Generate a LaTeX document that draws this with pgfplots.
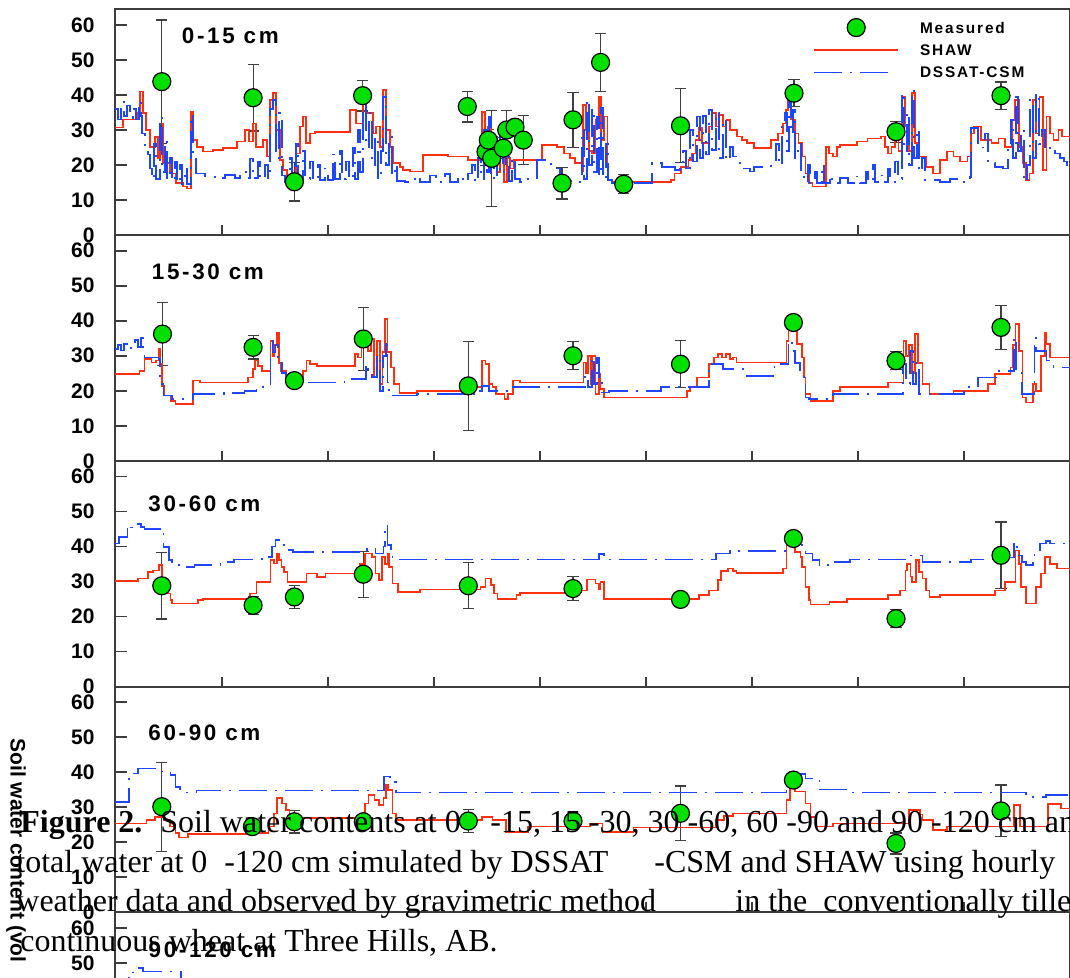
\documentclass[border=0pt]{standalone}
\usepackage{fontspec}
\setmainfont{Liberation Sans}
\newfontfamily\serif{Liberation Serif}
\newfontfamily\wide[LetterSpace=12]{Liberation Sans}
\usepackage{pgfplots}
\pgfplotsset{compat=1.18}
\definecolor{shawred}{HTML}{FF3010}
\definecolor{dssatblue}{HTML}{1E46FF}
\definecolor{mgreen}{HTML}{00E000}
\definecolor{axgray}{HTML}{3C3C3C}
\definecolor{ebgray}{HTML}{404040}
\newcommand\tickfont{\fontsize{10.5}{12}\selectfont\bfseries}
\newcommand\panfont{\wide\fontsize{11.2}{13}\selectfont\bfseries}
\newcommand\legfont{\wide\fontsize{7.7}{9}\selectfont\bfseries}
\newcommand\labfont{\fontsize{10.5}{12}\selectfont\bfseries}
\newcommand\capfont{\serif\fontsize{16}{19}\selectfont}

\pgfplotsset{
  panel/.style={scale only axis, width=477.5pt, height=112.9pt,
    xmin=115, xmax=1070, ymin=0, ymax=64.5,
    xtick={222,328,434,540,646,752,858,964}, xticklabels={},
    ytick={0,10,...,60},
    tick align=inside, xtick pos=left, ytick pos=left,
    xtick style={/pgfplots/major tick length=5pt},
    ytick style={/pgfplots/major tick length=6pt},
    axis line style={line width=0.9pt, axgray},
    tick style={line width=0.9pt, axgray},
    yticklabel style={font=\tickfont, inner sep=0pt, anchor=east, xshift=-10pt},
    /pgf/number format/assume math mode=true,
    anchor=south west},
  shaw/.style={shawred, line width=0.8pt, const plot, no marks},
  dssat/.style={dssatblue, line width=0.8pt, const plot, no marks,
    dash pattern=on 14pt off 4pt on 1pt off 4pt},
  meas/.style={only marks, mark=*, mark size=4.5pt,
    mark options={fill=mgreen, draw=black, line width=0.6pt, solid},
    error bars/y dir=both, error bars/y explicit,
    error bars/error bar style={line width=0.6pt, ebgray, solid},
    error bars/error mark options={rotate=90, mark size=2.8pt, line width=0.6pt, ebgray}},
  markleg/.style={legend image code/.code={\draw[##1] plot coordinates {(21pt,0pt)};}},
  lineleg/.style={legend image code/.code={\draw[##1] (0pt,0pt) -- (42pt,0pt);}},
  dashleg/.style={legend image code/.code={\draw[##1] (0pt,0pt) -- (40pt,0pt);}},
}

\begin{document}
\begin{tikzpicture}
\useasboundingbox (0,0) rectangle (535pt,489pt);
\clip (0,0) rectangle (535pt,489pt);

% ---------- 0-15 cm
\begin{axis}[panel, at={(57.5pt,371.5pt)},
  legend style={draw=none, fill=none, font=\legfont, inner sep=0pt,
    at={(axis cs:813,62.1)}, anchor=north west, cells={anchor=west},
    nodes={inner sep=0pt, minimum height=9.6pt, text height=5.5pt, text depth=0pt},
    row sep=1.6pt, /tikz/every odd column/.append style={column sep=10.5pt}}]
\addlegendimage{only marks, mark=*, mark size=4.5pt,
  mark options={fill=mgreen, draw=black, line width=0.6pt}, markleg}
\addlegendentry{Measured}
\addlegendimage{shawred, line width=0.8pt, lineleg}
\addlegendentry{SHAW}
\addlegendimage{dssatblue, line width=0.8pt, dash pattern=on 14pt off 4pt on 1pt off 4pt, dashleg}
\addlegendentry{DSSAT-CSM}
\addplot[meas] coordinates {
 (161.8,43.8)+-(0,17.6) (253.1,39.2)+-(0,9.5) (294.4,15.2)+-(0,5.5) (362.6,39.8)+-(0,4.4)
 (467.3,36.7)+-(0,4.4) (486,23.8)+-(0,4) (488.3,27.1)+-(0,3) (491.7,21.9)+-(0,13.7)
 (503.3,24.8)+-(0,3) (506.7,30.0)+-(0,5.5) (515,30.8)+-(0,2) (523.3,27.1)+-(0,7)
 (562,14.8)+-(0,4.5) (573,32.9)+-(0,7.8) (600.6,49.3)+-(0,8.3) (623.7,14.5)+-(0,2.7)
 (680.5,31.2)+-(0,10.6) (794,40.5)+-(0,3.9) (896,29.5)+-(0,3) (1001,39.8)+-(0,3.9)};
\addplot[shaw] coordinates {
 (115,30.7)(123,33.0)(137,34.8)(140,41.0)(143,34.8)(146,30.0)(150,25.2)(155,28.0)(158,22.0)
 (160,31.9)(163,20.5)(170,17.6)(176,14.8)(183,13.8)(187,13.3)(191,35.2)(193,27.1)(197,25.2)
 (203,23.8)(213,24.3)(223,24.8)(237,26.7)(245,30.0)(249,26.7)(253,31.9)(256,25.2)(263,27.1)
 (267,22.4)(270,38.6)(273,40.5)(276,30.0)(280,21.4)(283,18.6)(287,15.7)(290,16.7)(296,23.3)
 (300,31.0)(303,33.8)(306,26.2)(310,29.0)(315,29.5)(350,35.7)(356,31.9)(363,38.6)(366,34.8)
 (373,29.0)(376,31.0)(380,25.2)(383,41.4)(386,30.0)(390,25.2)(393,20.5)(400,19.5)(403,18.6)
 (410,18.1)(423,22.9)(448,22.4)(468,21.4)(480,23.0)(482,35.2)(485,22.0)(488,31.0)(491,20.0)
 (494,28.0)(497,18.0)(500,25.0)(504,15.2)(507,22.0)(510,19.0)(514,21.4)(542,25.7)(557,25.2)
 (564,23.3)(570,22.0)(575,20.5)(581.7,18.1)(583,37.1)(586,30.0)(589,24.0)(592,23.3)(595.4,32.9)
 (599,39.5)(601,27.1)(604,33.8)(607.5,15.7)(612.6,15.2)(671,15.7)(674.6,17.6)(681,19.5)
 (688.4,21.4)(692,23.3)(695.3,27.1)(699,30.5)(702.2,26.2)(709,31.0)(712,34.8)(716,31.0)
 (719.4,34.3)(723,31.0)(726.3,32.9)(730,30.0)(737,28.1)(741.8,27.1)(747,26.2)(753.8,24.8)
 (771,27.1)(778,29.0)(783,31.9)(786,35.7)(788,39.5)(791,33.0)(795,29.0)(798.6,26.2)(802,22.4)
 (805.5,17.6)(809,14.8)(812.4,13.8)(826,25.2)(829,23.3)(833,22.4)(837,25.2)(840,25.7)(857,26.7)
 (867.5,27.6)(881.2,28.1)(884.7,25.2)(888,23.3)(891.5,25.2)(895,30.0)(898.5,24.0)(902,39.5)
 (905,31.0)(908.8,24.0)(912,40.5)(915,26.2)(919,22.4)(926,19.5)(933,17.6)(940,21.4)(946.7,23.8)
 (953.5,22.4)(960,21.0)(967.3,22.4)(971,29.0)(974.2,31.0)(981,27.1)(991.4,26.2)(998.3,27.6)
 (1005,25.2)(1012,32.9)(1015,38.6)(1019,25.2)(1022.4,20.5)(1026,15.7)(1029.3,17.6)(1032.7,38.6)
 (1036,29.0)(1039.5,39.5)(1043,18.6)(1046.5,33.8)(1050,29.0)(1053.4,27.1)(1058.6,30.0)
 (1062,28.1)(1070,28.1)};
\addplot[dssat] coordinates {
 (115,36)(118,33)(121,38)(124,34)(127,37)(130,33.5)(133,36)(136,33)(139,38)(141,34)(142,29)
 (145,25)(148,23)(150,19)(152,16)(154,26)(156,16)(160,33.8)(162,18)(165,27)(167,16)(170,22)
 (172,15.5)(175,21)(177,15)(180,20)(182,14.5)(185,19)(187,14.5)(191,34.3)(193,22)(196,17.6)
 (205,16.7)(215,16.2)(225,17.1)(235,16.2)(240,18.1)(246,16.2)(250,21.9)(253,16.2)(258,21)
 (260,16.2)(265,20)(268,16.2)(270,36)(273,38.6)(276,22)(279,34.8)(282,17)(285,15.2)(290,22)
 (292,15.2)(296,26)(298,16)(303,24)(305,16)(310,21)(313,15.7)(318,20)(320,15.7)(325,19)
 (328,15.7)(333,23)(335,16)(340,24)(342,16)(346,21)(349,16)(353,25)(355,16)(358,30)(360,18)
 (363,38.6)(366,25)(369,34.8)(372,20)(375,28)(378,16)(381,24)(383,39.5)(386,20)(389,28)
 (392,17)(395,20)(397,15.5)(405,15.2)(415,16.7)(420,15.2)(430,17)(436,15.2)(445,17.5)
 (450,15.2)(458,16.7)(463,15.2)(468,17.6)(472,20)(475,15.2)(478,22)(481,16)(484,30)(487,18)
 (489,33.8)(491,16)(494,28)(497,17)(500,31)(503,18)(506,26)(509,15.5)(512,22)(515,16)
 (520,15.2)(527,16)(537,21.4)(551,19)(560,15.5)(578,15.2)(582,30)(584,16)(587,38.6)(589,20)
 (592,36)(594,18)(597,33.8)(599,17)(601,36.2)(603,16)(606,26)(608,15.7)(612,14.8)(652,20.5)
 (662,19.5)(675,18.6)(680,20)(683,24)(686,19)(690,30)(693,21)(697,33.8)(700,22)(703,34)
 (706,23)(709,35.7)(712,24.3)(716,35)(719,22)(723,33)(726,21.4)(730,25.2)(733,22.4)(740,20.5)
 (744,19)(750,18.1)(754,19.5)(771,21.4)(776,26)(779,20)(782,31)(785,34.8)(787,24)(789,38.6)
 (791,29)(793,35.7)(795,22)(798,26)(801,17.6)(804,15.2)(808,20)(810,14.8)(815,18)(817,14.8)
 (822,20)(824,14.8)(830,17)(832,14.8)(840,16.2)(848,14.8)(855,16.7)(860,14.8)(866,18)
 (868,15.2)(873,20)(875,15.2)(880,17)(883,15.2)(888,19)(890,15.2)(895,21)(898,16)(902,40.5)
 (904,24)(907,35)(909,20)(912,41.4)(914,22)(917,30)(919,18)(922,22)(925,15.7)(940,15.2)
 (950,16)(960,15.2)(970,16.5)(971,30.5)(978,25)(985,29)(988,20.5)(995,19.5)(1003,19)
 (1008,26)(1011,33)(1013,22)(1016,40.5)(1018,24)(1021,30)(1024,15.2)(1027,20)(1030,38.6)
 (1033,22)(1036,40.5)(1039,26)(1042,30)(1045,24.3)(1050,25.2)(1055,23.3)(1060,22)(1064,21)
 (1067,20)(1070,20)};
\node[font=\panfont, anchor=west, inner sep=0pt] at (axis cs:181.5,56.8) {0-15 cm};
\end{axis}

% ---------- 15-30 cm
\begin{axis}[panel, at={(57.5pt,258.6pt)}]
\addplot[meas] coordinates {
 (162.5,36.2)+-(0,9) (253.1,32.4)+-(0,3.3) (294.4,22.9)+-(0,1) (363.3,34.8)+-(0,9)
 (468.3,21.4)+-(0,12.7) (573,30)+-(0,4) (680.5,27.6)+-(0,6.7) (793.4,39.5)+-(0,1)
 (896,28.6)+-(0,2.6) (1001,38.1)+-(0,6.2)};
\addplot[shaw] coordinates {
 (115,24.8)(139.5,25.7)(144.6,29.0)(151.5,28.1)(156,28.6)(158.4,31.9)(160,27.6)(161.8,21.4)
 (164.6,18.6)(170.5,17.1)(175.6,16.2)(192.8,22.9)(199.7,22.4)(247.9,23.8)(253.1,26.2)
 (254.8,28.6)(258,27.1)(261.7,25.7)(270.3,34.3)(272.5,30)(274,33)(277.2,36.7)(279,28)
 (281,25.7)(285.8,23.8)(291,22.4)(303,25.7)(306.5,28.6)(310,27.6)(316.8,27.1)(354.7,30.5)
 (358,29.5)(361.6,32.4)(364.5,35.2)(368,31.4)(371,34.8)(374,24)(377,34.3)(380,22)(382.5,31)
 (385,40.5)(387.4,31.0)(390.8,26.7)(394,21.9)(399.5,19.3)(416.7,20.0)(468.3,21.0)(482.1,28.6)
 (485.5,27.6)(489,21.9)(492.4,21)(495.9,19)(504.5,17.6)(508,19)(513.1,22.9)(520,22.4)
 (583.4,28.1)(586,25)(588,30.0)(590.5,22)(592,30)(595.4,19)(598.9,24.8)(600.6,20.5)
 (604,18.1)(686.7,20.0)(690,21)(697,23.8)(709,27.6)(714.2,29.5)(717.7,30.5)(722,29.5)
 (726,30.5)(730,29)(733,29.5)(736.6,28.1)(786.5,34.3)(788.3,40.0)(791.7,37.1)(797,33.3)
 (802,29.5)(803.8,23.8)(805.5,19)(810.6,17.1)(833,20)(840,21)(888.1,22.4)(903.6,34.3)
 (906,30)(909,33)(912,25)(915,36.2)(918,28)(922.6,21.9)(929.5,19)(953.5,20)(988,21.9)
 (994.9,24.8)(1010.4,26.7)(1013,33)(1015.5,39)(1019,31.4)(1022.4,18.1)(1025.9,16.7)
 (1032.7,21.9)(1036,20)(1041,30)(1044.8,36.7)(1046.5,33.3)(1050,29.5)(1070,29.5)};
\addplot[dssat] coordinates {
 (115,31.9)(118,33)(121,31.5)(124,33.3)(128,32)(131,33.3)(135,34.5)(138,32.5)(141,35.2)
 (143,31)(144.6,29.5)(158.4,29.0)(160,21.9)(163.6,18.6)(172.2,17.6)(192.8,19.0)(223.8,19.3)
 (244.5,20.0)(256.5,21.0)(270.3,34.3)(273,31)(275.5,33)(278,28.5)(282,25)(285.8,22.4)
 (344.4,23.3)(366,27.6)(368,25)(372,24)(377,30)(380,20)(383,30)(385.7,34.3)(387.5,22.4)
 (389,18.6)(416.7,19.0)(475,20.0)(482,21.4)(489,20.0)(509.6,21.0)(585,24.3)(588,21)
 (592,29.5)(594,22)(597,29.5)(599,24)(602,19.5)(609,20.0)(660.9,21.0)(709,27.6)(722.8,26.2)
 (743.5,24.3)(774.5,27.6)(788.3,34.3)(791.7,31.4)(795,28)(800,24)(805.5,18.1)(809,17.6)
 (833,19.0)(903,27.6)(906,22)(910,31.4)(913,22)(916,28)(919,19)(963.9,21.0)(977.7,23.8)
 (998.3,25.7)(1014,35.2)(1016,25.7)(1022,19)(1032,19)(1034.5,35.2)(1036,31.4)(1046.5,28.6)
 (1053.4,26.7)(1070,26.7)};
\node[font=\panfont, anchor=west, inner sep=0pt] at (axis cs:151.5,54.1) {15-30 cm};
\end{axis}

% ---------- 30-60 cm
\begin{axis}[panel, at={(57.5pt,145.7pt)}]
\addplot[meas] coordinates {
 (161.8,28.8)+-(0,9.5) (253.1,23.2)+-(0,2.5) (294.4,25.6)+-(0,3.2) (363.3,32.1)+-(0,6.6)
 (468.3,28.8)+-(0,6.6) (573,28)+-(0,3.5) (680.5,24.9)+-(0,0.5) (793.4,42.3)+-(0,1)
 (896,19.4)+-(0,2.6) (1001,37.5)+-(0,9.5)};
\addplot[shaw] coordinates {
 (115,30.2)(137.7,30.9)(148,32.8)(153,33.2)(159,34.7)(161.8,29.0)(163.6,30.4)(167,26.6)
 (170.5,24.7)(172.2,23.7)(198,24.7)(203.2,25.1)(249.7,26.6)(256.5,29.9)(270.3,36.1)(274,35.2)
 (277.2,38.0)(279,36.1)(281.5,34.2)(284,32.8)(287.5,29.9)(306.5,32.3)(316.8,31.3)(325.4,32.3)
 (359.8,35.1)(365,38.0)(371.9,37.1)(375.3,32.3)(378.8,30.4)(382.2,37.1)(385,35.1)(387.4,38.0)
 (389.1,34.2)(392.6,29.4)(397.7,27.0)(420.1,27.7)(480.3,28.5)(485.5,30.9)(490.7,29.0)
 (494.1,26.6)(497.6,25.1)(516.5,26.1)(520,26.8)(571.3,27.5)(586.8,30.6)(595.4,29.5)
 (598.9,27.7)(600.6,29.9)(604,25.1)(698.7,26.1)(709,27.5)(717.7,30.4)(721.1,33.0)(728,33.7)
 (733.2,33.0)(736.6,32.5)(783.1,33.7)(786.5,41.8)(788.3,40.4)(795,38.5)(800.3,37.0)(802,34.2)
 (805.5,28.5)(808.9,24.7)(810.6,23.5)(829.6,24.2)(846.8,25.1)(888.1,26.1)(900.2,27.5)
 (905.3,33.2)(907,35.1)(910.5,31.4)(912.2,29.9)(915.7,36.1)(919,32.8)(922.6,30.9)(926,27.5)
 (929.5,25.6)(939.8,26.1)(994.9,27.5)(1005.2,29.9)(1015.5,38.9)(1019,35.1)(1020.7,28.5)
 (1025.9,23.7)(1036.2,28.5)(1041,32.3)(1044.8,37.0)(1050,35.1)(1056.9,33.7)(1070,33.7)};
\addplot[dssat] coordinates {
 (115,40.9)(119,42.8)(127.4,46.1)(131,45.5)(135,46.5)(141.2,45.6)(144.6,45.1)(160,43.7)
 (163.6,39.9)(168.7,36.1)(172.2,35.1)(179,34.2)(194.6,34.7)(220.4,35.6)(234.2,36.3)(261.7,37.0)
 (272,40)(275.5,41.8)(280.6,40.4)(285.8,39.0)(292.7,38.5)(366.8,39.4)(375.3,38.0)(383.5,40)
 (385,46.1)(387.4,40.4)(390.8,38.0)(392.6,36.3)(598.9,37.8)(604,36.3)(716,38.0)(729.7,38.8)
 (786.5,43.7)(791.7,43.0)(795,41.8)(802,40)(805.5,38.0)(812.4,36.1)(819.3,34.7)(829.6,35.6)
 (850.2,36.3)(907,37.5)(922.6,35.6)(970.8,36.3)(998.3,36.9)(1013.8,41.3)(1017,37.5)(1022,35.6)
 (1025.9,34.7)(1032.7,36.1)(1034.5,39.0)(1039.7,40.9)(1046,41.6)(1050,40.9)(1070,40.9)};
\node[font=\panfont, anchor=west, inner sep=0pt] at (axis cs:148,52.1) {30-60 cm};
\end{axis}

% ---------- 60-90 cm
\begin{axis}[panel, at={(57.5pt,32.8pt)}]
\addplot[meas] coordinates {
 (161.8,30.2)+-(0,12.7) (252.4,24.5)+-(0,0.5) (294.4,25.9)+-(0,3.2) (363.3,25.9)+-(0,1)
 (468.3,26.1)+-(0,3.2) (573,26.1)+-(0,1) (680.5,28.3)+-(0,7.8) (793.4,37.8)+-(0,1)
 (896,19.7)+-(0,3) (1001,29)+-(0,7.4)};
\addplot[shaw] coordinates {
 (115,25.4)(146.3,26.4)(155,27.3)(163.6,26.4)(170,24.5)(175.6,22.6)(179,21.4)(187.7,22.4)
 (250,22.6)(268.6,24.5)(273.8,28.3)(277.2,32.6)(282,31.1)(285.8,29.2)(289.3,27.3)(292.7,26.9)
 (361.6,28.3)(365,31.1)(368.5,33.5)(374.5,32.1)(378.8,30.7)(383.5,32.6)(385.7,36.4)(388,35.0)
 (392.6,28.3)(396,26.4)(482,27.3)(492.4,26.4)(506.2,23.0)(528,24.5)(590,25.4)(602.3,23.0)
 (633.3,24.2)(716,26.4)(724,27.5)(733.2,28.3)(786.5,32.1)(790,37.8)(795,34.5)(805.5,31.1)
 (810.6,27.3)(815.8,24.5)(833,25.4)(908.8,29.2)(920,28)(922.6,26.4)(932.9,23.5)(946.7,24.5)
 (1013.8,30.7)(1020,24.5)(1048.2,31.0)(1061,29.7)(1070,29.7)};
\addplot[dssat] coordinates {
 (115,31.6)(129.1,39.7)(137.7,41.1)(160,40.2)(170.5,39.2)(175.6,35.9)(180,34.2)(196.3,34.8)
 (384,38.8)(390,37.3)(396,34.2)(786.5,39.5)(805.5,38.3)(819.3,35.1)(850.2,34.2)(1025.9,33.0)
 (1046,33.5)(1070,33.5)};
\node[font=\panfont, anchor=west, inner sep=0pt] at (axis cs:148,51.4) {60-90 cm};
\end{axis}

% ---------- 90-120 cm (cut by the page)
\begin{axis}[panel, at={(57.5pt,-80.1pt)}]
\addplot[dssat] coordinates {
 (115,42)(129,47.3)(137,48.6)(143,47.6)(178,47.6)(181,43)(1070,43)};
\node[font=\panfont, anchor=west, inner sep=0pt] at (axis cs:148.3,53.8) {90-120 cm};
\end{axis}

% ---------- y label and the caption that overlaps the figure
\begin{scope}[x=0.5pt, y=-0.5pt, shift={(0pt,489pt)}]
\node[font=\labfont, rotate=-90, anchor=west, inner sep=0pt] at (16,738) {Soil water content (vol};
\begin{scope}[every node/.style={font=\capfont, anchor=base west, inner sep=0pt}]
\node at (20,833) {\textbf{Figure 2.}};
\node at (160,833) {Soil water contents at 0};
\node at (490,833) {-15, 15 -30, 30 -60, 60 -90 and 90 -120 cm and};
\node at (16,872.5) {total water at 0};
\node at (224,872.5) {-120 cm simulated by DSSAT};
\node at (654,872.5) {-CSM and SHAW using hourly};
\node at (16,912) {weather data and observed by gravimetric method};
\node at (735,912) {in the\ \ conventionally tilled};
\node at (20,951.5) {continuous wheat at Three Hills, AB.};
\end{scope}
\end{scope}
\end{tikzpicture}
\end{document}
